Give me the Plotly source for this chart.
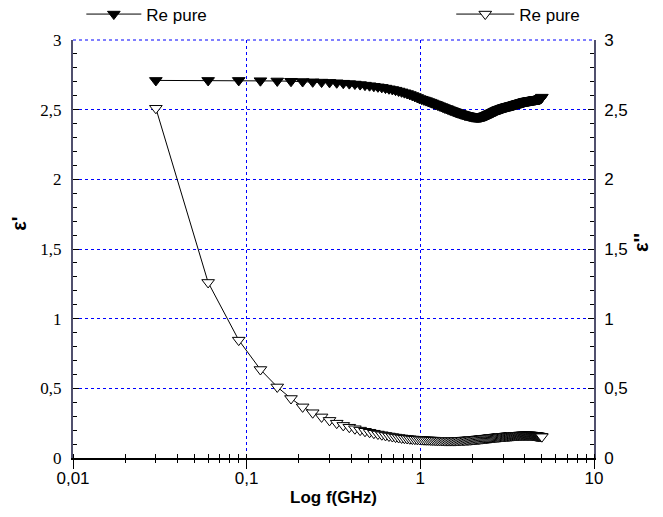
import plotly.graph_objects as go

freq_ghz = [
    0.03, 0.06, 0.09, 0.12, 0.15, 0.18, 0.21, 0.24, 0.27, 0.30,
    0.33, 0.36, 0.39, 0.42, 0.45, 0.48, 0.51, 0.54, 0.57, 0.60,
    0.63, 0.66, 0.69, 0.72, 0.75, 0.78, 0.81, 0.84, 0.87, 0.90,
    0.93, 0.96, 0.99, 1.02, 1.05, 1.08, 1.11, 1.14, 1.17, 1.20,
    1.23, 1.26, 1.29, 1.32, 1.35, 1.38, 1.41, 1.44, 1.47, 1.50,
    1.53, 1.56, 1.59, 1.62, 1.65, 1.68, 1.71, 1.74, 1.77, 1.80,
    1.83, 1.86, 1.89, 1.92, 1.95, 1.98, 2.01, 2.04, 2.07, 2.10,
    2.13, 2.16, 2.19, 2.22, 2.25, 2.28, 2.31, 2.34, 2.37, 2.40,
    2.43, 2.46, 2.49, 2.52, 2.55, 2.58, 2.61, 2.64, 2.67, 2.70,
    2.73, 2.76, 2.79, 2.82, 2.85, 2.88, 2.91, 2.94, 2.97, 3.00,
    3.03, 3.06, 3.09, 3.12, 3.15, 3.18, 3.21, 3.24, 3.27, 3.30,
    3.33, 3.36, 3.39, 3.42, 3.45, 3.48, 3.51, 3.54, 3.57, 3.60,
    3.63, 3.66, 3.69, 3.72, 3.75, 3.78, 3.81, 3.84, 3.87, 3.90,
    3.93, 3.96, 3.99, 4.02, 4.05, 4.08, 4.11, 4.14, 4.17, 4.20,
    4.23, 4.26, 4.29, 4.32, 4.35, 4.38, 4.41, 4.44, 4.47, 4.50,
    4.53, 4.56, 4.59, 4.62, 4.65, 4.68, 4.71, 4.74, 4.77, 4.80,
    4.83, 4.86, 4.89, 4.92, 4.95, 4.98, 5.01,
]

eps_real = [
    2.710, 2.710, 2.710, 2.708, 2.706, 2.704, 2.702, 2.700, 2.698, 2.696,
    2.693, 2.690, 2.687, 2.684, 2.680, 2.676, 2.672, 2.668, 2.664, 2.660,
    2.655, 2.650, 2.645, 2.640, 2.634, 2.628, 2.622, 2.616, 2.609, 2.602,
    2.595, 2.588, 2.580,
    2.575, 2.570, 2.565, 2.559, 2.554, 2.549, 2.543, 2.538, 2.533, 2.528,
    2.523, 2.518, 2.513, 2.509, 2.505, 2.500, 2.496,
    2.492, 2.488, 2.484, 2.480, 2.477, 2.474, 2.471, 2.468, 2.465, 2.462,
    2.460, 2.458, 2.456, 2.454, 2.452, 2.450, 2.449, 2.448, 2.447, 2.446,
    2.446, 2.446, 2.447, 2.448, 2.449, 2.451, 2.453, 2.455, 2.457, 2.460,
    2.463, 2.466, 2.469,
    2.472, 2.475, 2.478, 2.481, 2.484, 2.487, 2.490, 2.493, 2.496, 2.499,
    2.501, 2.503, 2.505, 2.507, 2.509, 2.511, 2.513,
    2.515, 2.517, 2.518, 2.520, 2.521, 2.523, 2.524, 2.525, 2.527, 2.528,
    2.529, 2.530, 2.532, 2.533, 2.534, 2.536, 2.537,
    2.539, 2.540, 2.541, 2.543, 2.544, 2.545, 2.546, 2.548, 2.549, 2.550,
    2.551, 2.553, 2.554, 2.555, 2.556, 2.558, 2.559,
    2.560, 2.561, 2.561, 2.562, 2.563, 2.563, 2.564, 2.565, 2.565, 2.566,
    2.567, 2.567, 2.568, 2.569, 2.569, 2.570,
    2.571, 2.571, 2.572, 2.572, 2.573, 2.573, 2.574, 2.574, 2.575, 2.575,
    2.576, 2.577, 2.578, 2.580, 2.582, 2.585, 2.590,
]

eps_imag = [
    2.510, 1.260, 0.846, 0.635, 0.510, 0.427, 0.367, 0.325, 0.295, 0.270,
    0.250,
    0.234, 0.221, 0.210, 0.200, 0.192, 0.185, 0.178, 0.172, 0.167, 0.162,
    0.158, 0.154, 0.150, 0.147, 0.144, 0.142, 0.140, 0.138, 0.136, 0.135,
    0.134, 0.133,
    0.132, 0.131, 0.130, 0.130, 0.129, 0.128, 0.128, 0.127, 0.127, 0.126,
    0.126, 0.126, 0.125, 0.125, 0.125, 0.125, 0.125,
    0.125, 0.125, 0.125, 0.126, 0.126, 0.126, 0.127, 0.127, 0.128, 0.128,
    0.129, 0.129, 0.130, 0.131, 0.131, 0.132, 0.133, 0.133, 0.134, 0.135,
    0.136, 0.136, 0.137, 0.138, 0.139, 0.139, 0.140, 0.141, 0.142, 0.142,
    0.143, 0.144, 0.145,
    0.146, 0.146, 0.147, 0.148, 0.148, 0.149, 0.150, 0.150, 0.151, 0.152,
    0.152, 0.153, 0.153, 0.154, 0.154, 0.155, 0.155,
    0.156, 0.156, 0.157, 0.157, 0.158, 0.158, 0.158, 0.159, 0.159, 0.160,
    0.160, 0.160, 0.161, 0.161, 0.161, 0.162, 0.162,
    0.162, 0.162, 0.163, 0.163, 0.163, 0.163, 0.164, 0.164, 0.164, 0.164,
    0.164, 0.165, 0.165, 0.165, 0.165, 0.165, 0.165,
    0.165, 0.165, 0.165, 0.165, 0.165, 0.165, 0.165, 0.165, 0.164, 0.164,
    0.164, 0.164, 0.163, 0.163, 0.163, 0.162,
    0.162, 0.161, 0.161, 0.160, 0.160, 0.159, 0.159, 0.158, 0.158, 0.157,
    0.157, 0.156, 0.156, 0.155, 0.155, 0.154, 0.153,
]

x_major_vals = [0.01, 0.1, 1, 10]
x_major_text = ["0,01", "0,1", "1", "10"]
x_all_ticks = [m * d for d in (0.01, 0.1, 1) for m in range(1, 10)] + [10]

y_vals = [0, 0.5, 1, 1.5, 2, 2.5, 3]
y_text = ["0", "0,5", "1", "1,5", "2", "2,5", "3"]

series_name = "Re pure"

SANS = "Liberation Sans, Arial, sans-serif"
SERIF = "Liberation Serif, Times New Roman, serif"
GRID = "rgb(0,0,255)"
AXIS_GRAY = "#50506e"

fig = go.Figure()

fig.add_trace(go.Scatter(
    x=freq_ghz, y=eps_real, mode="lines+markers", name=series_name,
    line=dict(color="black", width=1),
    marker=dict(symbol="triangle-down", size=11, color="black",
                line=dict(color="black", width=1)),
    legend="legend", xaxis="x", yaxis="y",
))

fig.add_trace(go.Scatter(
    x=freq_ghz, y=eps_imag, mode="lines+markers", name=series_name,
    line=dict(color="black", width=1),
    marker=dict(symbol="triangle-down", size=11, color="white",
                line=dict(color="black", width=1)),
    legend="legend2", xaxis="x2", yaxis="y2",
))

fig.update_layout(
    width=663, height=517,
    margin=dict(l=73, r=69, t=40, b=59, autoexpand=False),
    paper_bgcolor="white", plot_bgcolor="white",
    font=dict(family=SANS, size=17, color="black"),
    xaxis=dict(
        type="log", range=[-2, 1],
        tickmode="array", tickvals=x_major_vals, ticktext=x_major_text,
        ticks="outside", ticklen=9, tickwidth=1, tickcolor="black",
        ticklabelstandoff=-5,
        minor=dict(tickmode="array", tickvals=x_all_ticks, ticks="inside",
                   ticklen=4, tickwidth=1, tickcolor="black", showgrid=False),
        showgrid=True, gridcolor=GRID, griddash="3px,3px", gridwidth=1,
        showline=True, linecolor="black", linewidth=1.5,
        tickfont=dict(family=SANS, size=17),
        title=dict(text="<b>Log f(GHz)</b>", font=dict(family=SANS, size=17), standoff=4),
        zeroline=False,
    ),
    xaxis2=dict(
        type="log", range=[-2, 1], overlaying="x", anchor="y2", side="bottom",
        tickmode="array", tickvals=x_all_ticks,
        ticks="outside", ticklen=4, tickwidth=1, tickcolor="black",
        showticklabels=False, showgrid=False, showline=False, zeroline=False,
    ),
    yaxis=dict(
        range=[0, 3], tickmode="array", tickvals=y_vals, ticktext=y_text,
        ticks="inside", ticklen=6, tickwidth=1, tickcolor="black",
        ticklabelstandoff=6,
        minor=dict(ticks="inside", dtick=0.1, tick0=0, ticklen=4, tickcolor="black", showgrid=False),
        showgrid=True, gridcolor=GRID, griddash="3px,3px", gridwidth=1,
        showline=True, linecolor=AXIS_GRAY, linewidth=2,
        tickfont=dict(family=SERIF, size=17),
        zeroline=False,
    ),
    yaxis2=dict(
        range=[0, 3], overlaying="y", side="right", anchor="x",
        tickmode="array", tickvals=y_vals, ticktext=y_text,
        ticks="inside", ticklen=6, tickwidth=1, tickcolor="black",
        ticklabelstandoff=5,
        minor=dict(ticks="inside", dtick=0.1, tick0=0, ticklen=4, tickcolor="black", showgrid=False),
        showgrid=False,
        showline=True, linecolor=AXIS_GRAY, linewidth=1.5,
        tickfont=dict(family=SANS, size=17),
        zeroline=False,
    ),
    legend=dict(
        x=0.016, y=1.104, xanchor="left", yanchor="top",
        bgcolor="rgba(0,0,0,0)", borderwidth=0, itemwidth=55,
        font=dict(family=SANS, size=17),
    ),
    legend2=dict(
        x=0.726, y=1.104, xanchor="left", yanchor="top",
        bgcolor="rgba(0,0,0,0)", borderwidth=0, itemwidth=58,
        font=dict(family=SANS, size=17),
    ),
    showlegend=True,
    shapes=[dict(type="line", xref="paper", yref="paper", x0=0, x1=1, y0=1, y1=1,
                 line=dict(color=GRID, width=1, dash="3px,3px"), layer="below")],
    annotations=[
        dict(text="<b>ε'</b>", xref="paper", yref="paper", x=-0.104, y=0.56,
             xanchor="center", yanchor="middle",
             textangle=-90, showarrow=False, font=dict(family=SANS, size=20)),
        dict(text="<b>ε''</b>", xref="paper", yref="paper", x=1.089, y=0.515,
             xanchor="center", yanchor="middle",
             textangle=-90, showarrow=False, font=dict(family=SANS, size=20)),
    ],
)

fig.write_html("out.html")
